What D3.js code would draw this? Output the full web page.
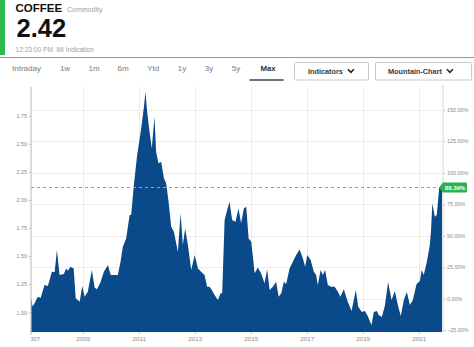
<!DOCTYPE html>
<html><head><meta charset="utf-8">
<script src="https://cdn.jsdelivr.net/npm/d3@7/dist/d3.min.js"></script>
<style>
html,body{margin:0;padding:0;background:#fff;overflow:hidden;}
svg{display:block;font-family:"Liberation Sans",Arial,sans-serif;}
</style></head><body>
<svg id="chart" width="474" height="347"></svg>
<script>
// ---------------- data ----------------
const symbolName = "COFFEE";
const symbolType = "Commodity";
const lastPrice = "2.42";
const timeNote = "12:23:00 PM  MI Indication";
const tabLabels = ["Intraday","1w","1m","6m","Ytd","1y","3y","5y","Max"];
const buttonLabels = ["Indicators","Mountain-Chart"];

const dates = [
"2007-02-28","2007-03-21","2007-05-26","2007-07-01","2007-08-22","2007-10-04","2007-11-26",
"2008-01-01","2008-01-30","2008-03-05","2008-04-30","2008-05-29","2008-06-21","2008-07-26","2008-09-05","2008-10-01","2008-11-22","2008-12-25",
"2009-01-26","2009-03-08","2009-04-30","2009-06-05","2009-07-04","2009-08-16","2009-10-04","2009-11-26",
"2010-01-01","2010-02-22","2010-04-04","2010-05-09","2010-06-08","2010-07-21","2010-09-05","2010-09-25","2010-10-30","2010-12-12",
"2011-02-03","2011-03-08","2011-03-31","2011-04-21","2011-05-22","2011-06-21","2011-07-26","2011-08-16","2011-09-17","2011-10-21","2011-11-26","2011-12-25",
"2012-01-26","2012-02-29","2012-04-04","2012-05-26","2012-07-01","2012-07-30","2012-08-29","2012-10-04","2012-11-16",
"2013-01-01","2013-02-12","2013-03-25","2013-05-09","2013-06-12","2013-07-13","2013-08-12","2013-09-17","2013-10-30","2013-12-04","2013-12-25",
"2014-01-26","2014-02-28","2014-03-31","2014-05-04","2014-06-17","2014-07-26","2014-08-29","2014-10-04","2014-11-04","2014-12-05",
"2015-01-08","2015-01-30","2015-02-22","2015-04-04","2015-05-16","2015-07-01","2015-08-04","2015-09-05","2015-10-17","2015-11-29",
"2016-01-01","2016-02-04","2016-03-09","2016-04-08","2016-05-22","2016-07-04","2016-08-16","2016-10-01","2016-11-12","2016-12-12",
"2017-01-08","2017-02-22","2017-04-04","2017-05-04","2017-05-26","2017-07-01","2017-07-30","2017-08-29","2017-10-04","2017-11-16",
"2018-01-01","2018-02-12","2018-03-17","2018-04-30","2018-06-21","2018-08-09","2018-10-04","2018-11-04","2018-12-21",
"2019-01-30","2019-03-08","2019-04-26","2019-05-26","2019-07-04","2019-07-30","2019-09-08","2019-10-17","2019-11-29",
"2020-01-13","2020-02-25","2020-04-04","2020-05-12","2020-06-21","2020-07-30","2020-09-08","2020-10-17","2020-12-04",
"2021-01-17","2021-02-09","2021-03-08","2021-04-17","2021-05-26","2021-06-10","2021-06-28","2021-07-30","2021-08-25","2021-09-25","2021-11-01"
];
const prices = [
1.121,1.050,1.139,1.127,1.243,1.234,1.361,
1.359,1.554,1.332,1.341,1.391,1.370,1.406,1.391,1.125,1.094,1.234,
1.139,1.183,1.376,1.222,1.205,1.258,1.361,1.421,
1.332,1.332,1.332,1.450,1.584,1.658,1.866,1.866,2.133,2.399,
2.637,2.815,2.963,2.785,2.607,2.459,2.740,2.429,2.326,2.340,2.192,2.148,
1.984,1.762,1.717,1.539,1.881,1.599,1.747,1.599,1.376,
1.510,1.391,1.361,1.332,1.228,1.228,1.198,1.154,1.109,1.169,1.169,
1.821,1.910,1.984,1.821,1.806,1.925,1.792,1.925,1.940,1.658,
1.628,1.495,1.347,1.400,1.347,1.258,1.383,1.198,1.228,1.272,
1.139,1.169,1.272,1.252,1.391,1.450,1.510,1.560,1.480,1.406,
1.510,1.465,1.361,1.332,1.243,1.376,1.332,1.376,1.243,1.228,
1.228,1.183,1.139,1.205,1.094,1.012,1.198,1.050,1.003,
1.012,0.967,0.887,1.003,1.012,0.976,0.958,1.056,1.270,
1.109,1.190,1.065,0.967,1.109,1.181,1.065,1.109,1.252,
1.278,1.376,1.332,1.448,1.599,1.720,1.970,1.851,1.866,2.106,2.1118
];
const priceTicks = [1.00,1.25,1.50,1.75,2.00,2.25,2.50,2.75];
const pctTicks = [-25,0,25,50,75,100,125,150];
const yearTicks = [2007,2009,2011,2013,2015,2017,2019,2021];
const priceDomain = [0.825, 3.005];
const timeDomain = ["2007-02-26","2021-11-01"];

// ---------------- layout ----------------
const svg = d3.select("#chart");
const plot = {left:31, right:442, top:87, bottom:332};
const parse = d3.timeParse("%Y-%m-%d");
const data = dates.map((d,i)=>({date:parse(d), value:prices[i]}));
const base = data[0].value;
const last = data[data.length-1].value;

const x = d3.scaleTime().domain(timeDomain.map(parse)).range([plot.left, plot.right]);
const y = d3.scaleLinear().domain(priceDomain).range([plot.bottom, plot.top]);
const yPct = d3.scaleLinear().domain(priceDomain.map(p=>(p/base-1)*100)).range([plot.bottom, plot.top]);

// ---------------- header ----------------
svg.append("rect").attr("x",0).attr("y",0).attr("width",5).attr("height",55).attr("fill","#2db84d");
svg.append("text").attr("x",15.5).attr("y",12).attr("font-size",11.5).attr("font-weight","bold").attr("fill","#111").text(symbolName);
svg.append("text").attr("x",67).attr("y",11.5).attr("font-size",7).attr("fill","#a0a0a0").text(symbolType);
svg.append("text").attr("x",16.5).attr("y",36.7).attr("font-size",25.5).attr("font-weight","bold").attr("fill","#111").text(lastPrice);
svg.append("text").attr("x",15.5).attr("y",52.3).attr("font-size",6.6).attr("fill","#a0a0a0").attr("xml:space","preserve").style("white-space","pre").text(timeNote);

svg.append("line").attr("x1",0).attr("x2",474).attr("y1",57.5).attr("y2",57.5).attr("stroke","#9a9a9a").attr("stroke-width",1);

const tabX = [26.5,65,94,123,153.3,182,209,236,268];
svg.append("g").selectAll("text").data(tabLabels).join("text")
  .attr("x",(d,i)=>tabX[i]).attr("y",71.3).attr("text-anchor","middle")
  .attr("font-size",(d)=>d==="Max"?7.8:8)
  .attr("font-weight",d=>d==="Max"?"bold":"normal")
  .attr("fill",d=>d==="Max"?"#333":"#7a7a7a").text(d=>d);
svg.append("line").attr("x1",249.5).attr("x2",283.5).attr("y1",80).attr("y2",80).attr("stroke","#444").attr("stroke-width",1.6);

const btns = [{x:294.5,w:74,tx:308},{x:375.5,w:96,tx:388}];
btns.forEach((b,i)=>{
  svg.append("rect").attr("x",b.x).attr("y",62.5).attr("width",b.w).attr("height",17.5)
    .attr("fill","#fff").attr("stroke","#c8c8c8").attr("stroke-width",1).attr("rx",1);
  const t = svg.append("text").attr("x",b.tx).attr("y",73.8).attr("font-size",7.3).attr("font-weight","bold").attr("fill","#3a3a3a").text(buttonLabels[i]);
  const tw = t.node().getComputedTextLength();
  const cx = b.tx + tw + 5;
  svg.append("path").attr("d",`M${cx},69.3 L${cx+3},72.3 L${cx+6},69.3`).attr("fill","none").attr("stroke","#222").attr("stroke-width",1.6);
});

// ---------------- grid ----------------
const grid = svg.append("g");
grid.selectAll(".hg").data(pctTicks).join("line")
  .attr("x1",plot.left).attr("x2",plot.right)
  .attr("y1",d=>Math.round(yPct(d))+0.5).attr("y2",d=>Math.round(yPct(d))+0.5)
  .attr("stroke","#ececec");
grid.selectAll(".vg").data(yearTicks.filter(t=>x(new Date(t,0,1))>plot.left)).join("line")
  .attr("x1",d=>Math.round(x(new Date(d,0,1)))+0.5).attr("x2",d=>Math.round(x(new Date(d,0,1)))+0.5)
  .attr("y1",plot.top).attr("y2",plot.bottom)
  .attr("stroke","#ececec");

// ---------------- area ----------------
svg.append("defs").append("clipPath").attr("id","pc").append("rect")
  .attr("x",plot.left).attr("y",plot.top).attr("width",plot.right-plot.left).attr("height",plot.bottom-plot.top);
const area = d3.area().x(d=>x(d.date)).y0(plot.bottom).y1(d=>y(d.value));
svg.append("path").datum(data).attr("clip-path","url(#pc)").attr("d",area).attr("fill","#0b4a8a");

// dashed last-value line
const yl = Math.round(y(last))+0.5;
svg.append("line").attr("x1",plot.left).attr("x2",plot.right-3).attr("y1",yl).attr("y2",yl)
  .attr("stroke","#5fb8a8").attr("stroke-width",1).attr("stroke-dasharray","3,3");

// ---------------- axes ----------------
const yAxisL = svg.append("g").attr("transform",`translate(${plot.left},0)`)
  .call(d3.axisLeft(y).tickValues(priceTicks).tickFormat(d3.format(".2f")).tickSize(2.5).tickPadding(1.5));
yAxisL.select(".domain").attr("stroke","#b8b8b8").attr("d",`M0,${plot.top}V${plot.bottom+3}`);
yAxisL.selectAll(".tick line").attr("stroke","#c8c8c8");
yAxisL.selectAll("text").attr("font-size",5.4).attr("fill","#8a8a8a").attr("font-family","Liberation Sans, Arial, sans-serif");

const yAxisR = svg.append("g").attr("transform",`translate(${plot.right+1},0)`)
  .call(d3.axisRight(yPct).tickValues(pctTicks).tickFormat(d=>d3.format(".2f")(d)+"%").tickSize(2.5).tickPadding(1.5));
yAxisR.select(".domain").attr("stroke","#cfd6de").attr("d",`M0,${plot.top-2}V${plot.bottom}`);
yAxisR.selectAll(".tick line").attr("stroke","#c8c8c8");
yAxisR.selectAll("text").attr("font-size",5.4).attr("fill","#8a8a8a").attr("font-family","Liberation Sans, Arial, sans-serif");

svg.append("defs").append("clipPath").attr("id","xc").append("rect")
  .attr("x",plot.left).attr("y",plot.bottom).attr("width",474-plot.left).attr("height",20);
const xAxis = svg.append("g").attr("clip-path","url(#xc)").append("g").attr("transform",`translate(0,${plot.bottom})`)
  .call(d3.axisBottom(x).tickValues(yearTicks.map(t=>new Date(t,0,1))).tickFormat(d3.timeFormat("%Y")).tickSize(2.5).tickPadding(2.5));
xAxis.select(".domain").remove();
xAxis.selectAll(".tick line").attr("stroke","#c8c8c8");
xAxis.selectAll("text").attr("font-size",6.2).attr("fill","#8a8a8a").attr("font-family","Liberation Sans, Arial, sans-serif");
xAxis.selectAll(".tick").filter(d=>x(d)<plot.left).select("text").attr("dx",6);

// ---------------- last value badge ----------------
const pctLabel = ((last/base-1)*100).toFixed(2)+"%";
const bx = plot.right-3;
svg.append("path").attr("d",`M${bx},${yl} L${bx+4},${yl-5} H${bx+27} Q${bx+28},${yl-5} ${bx+28},${yl-4} V${yl+4} Q${bx+28},${yl+5} ${bx+27},${yl+5} H${bx+4} Z`).attr("fill","#27b24a");
svg.append("text").attr("x",bx+16).attr("y",yl+2.1).attr("text-anchor","middle").attr("font-size",6).attr("font-weight","bold").attr("fill","#fff").text(pctLabel);
</script>
</body></html>
